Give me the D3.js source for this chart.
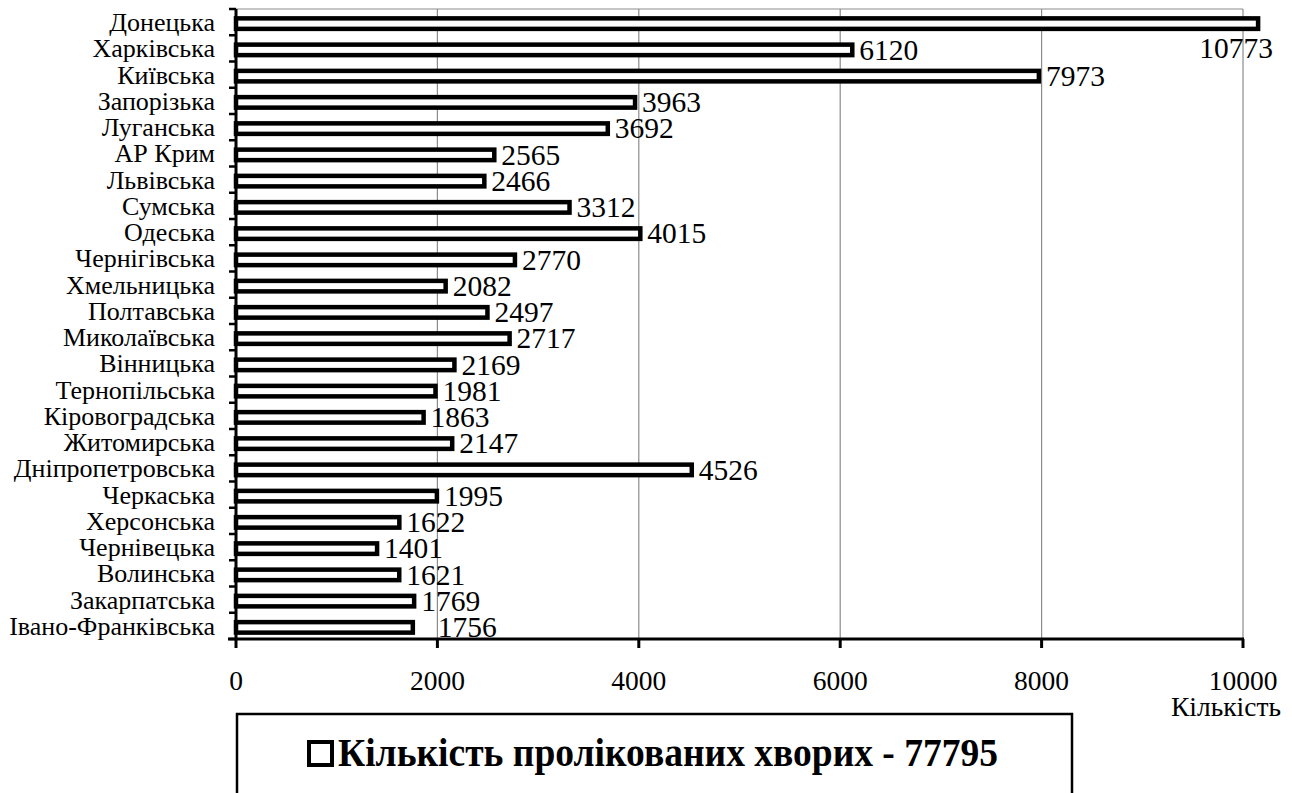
<!DOCTYPE html>
<html><head><meta charset="utf-8">
<script src="https://cdn.jsdelivr.net/npm/d3@7"></script>
<style>
html,body{margin:0;padding:0;background:#fff;}
</style></head>
<body>
<svg id="chart" width="1292" height="793"></svg>
<script>
const categories = ["Донецька","Харківська","Київська","Запорізька","Луганська","АР Крим","Львівська","Сумська","Одеська","Чернігівська","Хмельницька","Полтавська","Миколаївська","Вінницька","Тернопільська","Кіровоградська","Житомирська","Дніпропетровська","Черкаська","Херсонська","Чернівецька","Волинська","Закарпатська","Івано-Франківська"];
const values = [10773,6120,7973,3963,3692,2565,2466,3312,4015,2770,2082,2497,2717,2169,1981,1863,2147,4526,1995,1622,1401,1621,1769,1756];
const xTicks = [0,2000,4000,6000,8000,10000];
const axisTitle = "Кількість";
const legendLabel = "Кількість пролікованих хворих - 77795";

const FONT = '"Liberation Serif", "Times New Roman", Tinos, serif';
const svg = d3.select("#chart");
const m = {left:236, right:1243, top:9, bottom:639};
const x = d3.scaleLinear().domain([0,10000]).range([m.left, m.right]);
const clipMax = 10150;
const y = d3.scaleBand().domain(categories).range([m.top, m.bottom]).paddingInner(0).paddingOuter(0);

// gridlines
svg.append("g").selectAll("line").data(xTicks.filter(d=>d>0)).join("line")
  .attr("x1",d=>x(d)).attr("x2",d=>x(d)).attr("y1",m.top).attr("y2",m.bottom)
  .attr("stroke","#8c8c8c").attr("stroke-width",1.2);
svg.append("line").attr("x1",m.left).attr("x2",m.right).attr("y1",m.top).attr("y2",m.top)
  .attr("stroke","#8c8c8c").attr("stroke-width",1.2);

// bars
const barH = 10.5;
svg.append("g").selectAll("rect").data(values).join("rect")
  .attr("x", x(0))
  .attr("y", (d,i)=> y(categories[i]) + y.bandwidth()/2 - barH/2 + 1.5)
  .attr("width", d => x(Math.min(d, clipMax)) - x(0))
  .attr("height", barH)
  .attr("fill","#fff").attr("stroke","#000").attr("stroke-width",4.5);

// value labels
svg.append("g").selectAll("text").data(values).join("text")
  .style("font-family", FONT)
  .attr("x", (d,i)=> {
    if (d > 10000) return x(10000) - 7;
    let off = 7;
    if (i === categories.length-1) off = 25;
    return x(d) + off;
  })
  .attr("y", (d,i)=> y(categories[i]) + y.bandwidth()/2 + 1 + (d>10000 ? 25 : 0))
  .attr("dy","0.35em")
  .attr("text-anchor",(d)=> d>10000 ? "middle" : "start")
  .attr("font-size",29.5)
  .text(d=>d);

// y axis
const ya = svg.append("g");
ya.append("line").attr("x1",m.left).attr("x2",m.left).attr("y1",m.top).attr("y2",m.bottom)
  .attr("stroke","#000").attr("stroke-width",3);
const bounds = categories.map(c=>y(c)).concat([m.bottom]);
ya.selectAll("line.t").data(bounds).join("line").attr("class","t")
  .attr("x1",m.left-7).attr("x2",m.left).attr("y1",d=>d).attr("y2",d=>d)
  .attr("stroke","#000").attr("stroke-width",2.5);
ya.selectAll("text").data(categories).join("text")
  .style("font-family", FONT)
  .attr("x", m.left-21).attr("y", d=>y(d)+y.bandwidth()/2)
  .attr("dy","0.35em").attr("text-anchor","end").attr("font-size",26)
  .text(d=>d);

// x axis
const xa = svg.append("g");
xa.append("line").attr("x1",m.left-8).attr("x2",m.right+1).attr("y1",m.bottom).attr("y2",m.bottom)
  .attr("stroke","#000").attr("stroke-width",3);
xa.selectAll("line.t").data(xTicks).join("line").attr("class","t")
  .attr("x1",d=>x(d)).attr("x2",d=>x(d)).attr("y1",m.bottom).attr("y2",m.bottom+9)
  .attr("stroke","#000").attr("stroke-width",3);
xa.selectAll("text").data(xTicks).join("text")
  .style("font-family", FONT)
  .attr("x",d=>x(d)).attr("y",690)
  .attr("text-anchor","middle").attr("font-size",27.5).text(d=>d);
svg.append("text").style("font-family", FONT).attr("x",1226).attr("y",716)
  .attr("text-anchor","middle").attr("font-size",27.5).text(axisTitle);

// legend
const lg = svg.append("g");
lg.append("rect").attr("x",237).attr("y",714).attr("width",835).attr("height",100)
  .attr("fill","#fff").attr("stroke","#000").attr("stroke-width",2.5);
lg.append("rect").attr("x",309).attr("y",742).attr("width",23).attr("height",23)
  .attr("fill","#fff").attr("stroke","#000").attr("stroke-width",4);
lg.append("text").style("font-family", FONT).attr("x",338).attr("y",766)
  .attr("font-size",39).attr("font-weight","bold")
  .attr("textLength",660).attr("lengthAdjust","spacingAndGlyphs")
  .text(legendLabel);
</script>
</body></html>
